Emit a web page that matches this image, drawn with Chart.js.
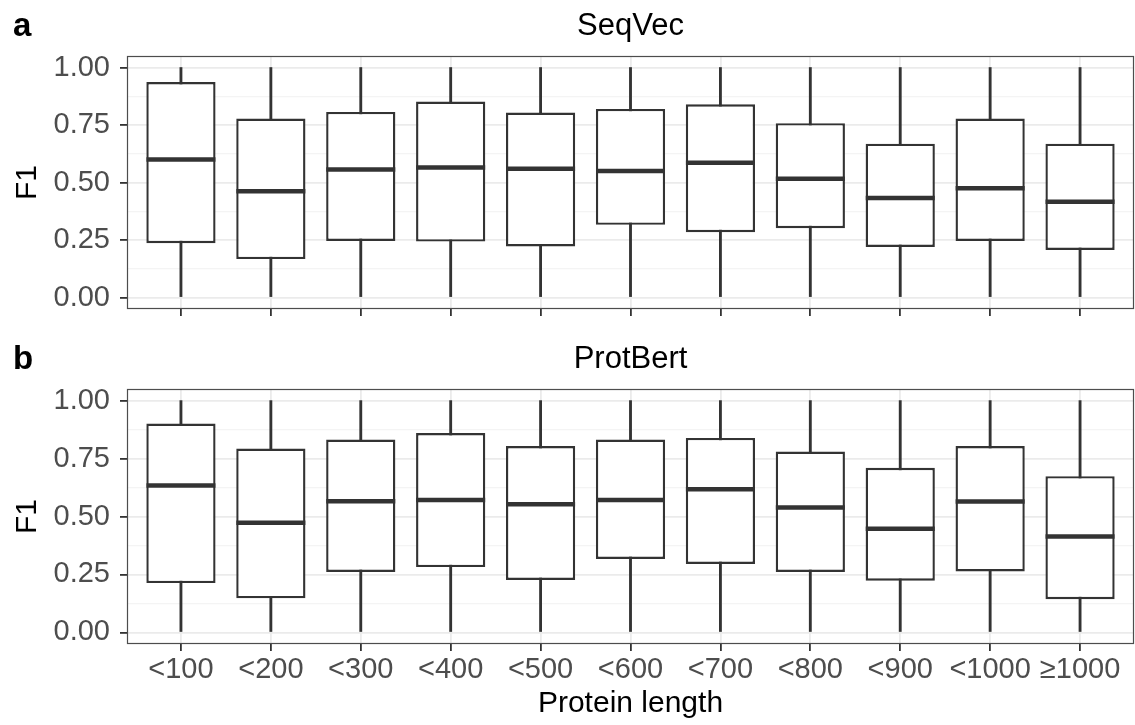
<!DOCTYPE html>
<html>
<head>
<meta charset="utf-8">
<script src="https://cdn.jsdelivr.net/npm/chart.js@4.4.1/dist/chart.umd.min.js"></script>
<style>
  body { margin: 0; background: #fff; }
  canvas { display: block; }
</style>
</head>
<body>
<canvas id="seqvec" width="1135" height="333"></canvas>
<canvas id="protbert" width="1135" height="392"></canvas>
<script>
// length bins on the x axis
var lengthBins = ['<100', '<200', '<300', '<400', '<500', '<600', '<700', '<800', '<900', '<1000', '\u22651000'];

// SeqVec box stats (F1)
var seqvecMin    = [0, 0, 0, 0, 0, 0, 0, 0, 0, 0, 0];
var seqvecQ1     = [0.236, 0.167, 0.246, 0.243, 0.222, 0.316, 0.284, 0.301, 0.220, 0.246, 0.207];
var seqvecMedian = [0.600, 0.462, 0.556, 0.565, 0.560, 0.550, 0.586, 0.516, 0.433, 0.475, 0.416];
var seqvecQ3     = [0.937, 0.778, 0.807, 0.852, 0.804, 0.820, 0.840, 0.758, 0.669, 0.778, 0.669];
var seqvecMax    = [1, 1, 1, 1, 1, 1, 1, 1, 1, 1, 1];

// ProtBert box stats (F1)
var protbertMin    = [0, 0, 0, 0, 0, 0, 0, 0, 0, 0, 0];
var protbertQ1     = [0.213, 0.147, 0.261, 0.282, 0.226, 0.317, 0.295, 0.261, 0.223, 0.263, 0.143];
var protbertMedian = [0.634, 0.473, 0.566, 0.571, 0.553, 0.571, 0.618, 0.539, 0.447, 0.565, 0.414];
var protbertQ3     = [0.901, 0.793, 0.832, 0.860, 0.804, 0.832, 0.839, 0.780, 0.710, 0.804, 0.674];
var protbertMax    = [1, 1, 1, 1, 1, 1, 1, 1, 1, 1, 1];

// y ticks
var yMajorTicks = [0, 0.25, 0.5, 0.75, 1];
var yMinorTicks = [0.125, 0.375, 0.625, 0.875];

var FONT = '"Liberation Sans", Arial, sans-serif';
var INK = '#333333';

function isMajor(v) {
  return yMajorTicks.some(function (t) { return Math.abs(t - v) < 1e-6; });
}

// panel border + tag + title, ggplot-ish
var panelDecor = {
  id: 'panelDecor',
  afterDatasetsDraw: function (chart) {
    var a = chart.chartArea, ctx = chart.ctx;
    ctx.save();
    ctx.strokeStyle = '#4d4d4d';
    ctx.lineWidth = 1.2;
    ctx.strokeRect(a.left + 0.5, a.top + 0.5, a.right - a.left - 1, a.bottom - a.top - 1);
    ctx.restore();
  },
  afterDraw: function (chart, args, opts) {
    var a = chart.chartArea, ctx = chart.ctx;
    ctx.save();
    ctx.fillStyle = '#000';
    ctx.textBaseline = 'alphabetic';
    ctx.textAlign = 'left';
    ctx.font = 'bold 33px ' + FONT;
    ctx.fillText(opts.tag, 13, 36);
    ctx.textAlign = 'center';
    ctx.font = '31px ' + FONT;
    ctx.fillText(opts.title, (a.left + a.right) / 2, 35);
    ctx.restore();
  }
};

function makePanel(id, tag, title, mins, q1, med, q3, maxs, showX, xAxisHeight) {
  var whiskers = [], boxes = [], medians = [];
  for (var i = 0; i < lengthBins.length; i++) {
    whiskers.push({ x: i + 1, y: [mins[i], maxs[i]] });
    boxes.push({ x: i + 1, y: [q1[i], q3[i]] });
    medians.push({ x: i + 1, y: med[i] });
  }

  new Chart(document.getElementById(id), {
    type: 'bar',
    data: {
      datasets: [{
        data: whiskers,
        grouped: false,
        barThickness: 2.2,
        backgroundColor: INK,
        borderWidth: 0,
        order: 3
      }, {
        data: boxes,
        grouped: false,
        barPercentage: 0.77,
        categoryPercentage: 1,
        backgroundColor: '#ffffff',
        borderColor: INK,
        borderWidth: 2.4,
        borderSkipped: false,
        order: 2
      }, {
        type: 'line',
        data: medians,
        showLine: false,
        pointStyle: 'line',
        pointRadius: 34.5,
        pointHoverRadius: 34.5,
        pointBorderWidth: 4.5,
        pointHoverBorderWidth: 4.5,
        borderColor: INK,
        backgroundColor: INK,
        order: 1
      }]
    },
    options: {
      responsive: false,
      animation: false,
      events: [],
      layout: { autoPadding: false, padding: { top: 56, right: 1, left: 0, bottom: 0 } },
      plugins: {
        legend: { display: false },
        tooltip: { enabled: false },
        panelDecor: { tag: tag, title: title }
      },
      scales: {
        x: {
          type: 'linear',
          min: 0.4,
          max: 11.6,
          offset: false,
          afterBuildTicks: function (s) {
            s.ticks = lengthBins.map(function (_, i) { return { value: i + 1 }; });
          },
          afterFit: function (s) {
            s.height = xAxisHeight;
            s.paddingLeft = 0; s.paddingRight = 0;
          },
          border: { display: false },
          grid: {
            offset: false,
            color: '#ebebeb',
            lineWidth: 1.8,
            tickColor: INK,
            tickLength: 7,
            tickWidth: 1.8
          },
          ticks: {
            display: showX,
            autoSkip: false,
            maxRotation: 0,
            minRotation: 0,
            padding: 2,
            color: '#4d4d4d',
            font: { family: FONT, size: 29 },
            callback: function (v) { return lengthBins[Math.round(v) - 1]; }
          },
          title: {
            display: showX,
            text: 'Protein length',
            color: '#000',
            font: { family: FONT, size: 30 },
            padding: { top: 0, bottom: 3 }
          }
        },
        y: {
          min: -0.05,
          max: 1.05,
          afterBuildTicks: function (s) {
            s.ticks = yMajorTicks.concat(yMinorTicks).sort().map(function (v) { return { value: v }; });
          },
          afterFit: function (s) {
            s.width = 127;
            s.paddingTop = 0; s.paddingBottom = 0;
          },
          border: { display: false },
          grid: {
            color: function (c) { return isMajor(c.tick.value) ? '#ebebeb' : '#f4f4f4'; },
            lineWidth: function (c) { return isMajor(c.tick.value) ? 1.8 : 1.2; },
            tickColor: function (c) { return isMajor(c.tick.value) ? INK : 'rgba(0,0,0,0)'; },
            tickLength: 7,
            tickWidth: 1.8
          },
          ticks: {
            autoSkip: false,
            padding: 10,
            color: '#4d4d4d',
            font: { family: FONT, size: 29 },
            callback: function (v) { return isMajor(v) ? v.toFixed(2) : ''; }
          },
          title: {
            display: true,
            text: 'F1',
            color: '#000',
            font: { family: FONT, size: 30 },
            padding: { top: 10, bottom: 0 }
          }
        }
      }
    },
    plugins: [panelDecor]
  });
}

makePanel('seqvec', 'a', 'SeqVec', seqvecMin, seqvecQ1, seqvecMedian, seqvecQ3, seqvecMax, false, 24);
makePanel('protbert', 'b', 'ProtBert', protbertMin, protbertQ1, protbertMedian, protbertQ3, protbertMax, true, 81);
</script>
</body>
</html>
